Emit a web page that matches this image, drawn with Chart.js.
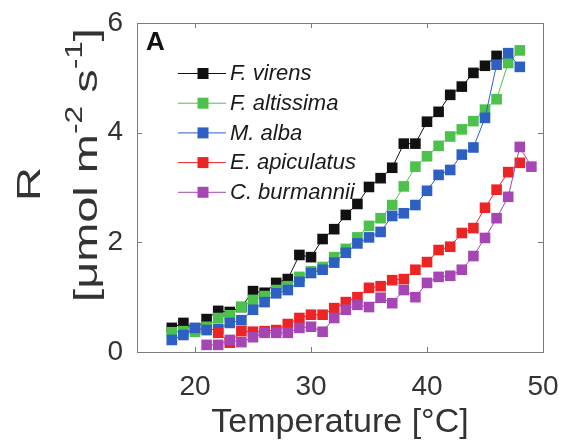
<!DOCTYPE html>
<html lang="en">
<head>
<meta charset="UTF-8" />
<title>R vs Temperature</title>
<script src="https://cdn.jsdelivr.net/npm/chart.js"></script>
<style>
  html, body { margin: 0; padding: 0; background: #fff; }
  #wrap { width: 571px; height: 446px; }
</style>
</head>
<body>
<div id="wrap"><canvas id="chart" width="571" height="446"></canvas></div>
<script>
// species, colours (legend order = drawing order)
const speciesNames = ['F. virens', 'F. altissima', 'M. alba', 'E. apiculatus', 'C. burmannii'];
const speciesColors = ['#111111', '#4cc14c', '#2e5fc2', '#ed2424', '#a546b4'];

// temperature [°C] per series
const virensT = [18,19,20,21,22,23,24,25,26,27,28,29,30,31,32,33,34,35,36,37,38,39,40,41,42,43,44,45,46];
const altissimaT = [18,19,20,21,22,23,24,25,26,27,28,29,30,31,32,33,34,35,36,37,38,39,40,41,42,43,44,45,46,47,48];
const albaT = [18,19,20,21,22,23,24,25,26,27,28,29,30,31,32,33,34,35,36,37,38,39,40,41,42,43,44,45,46,47,48];
const apiculatusT = [22,23,24,25,26,27,28,29,30,31,32,33,34,35,36,37,38,39,40,41,42,43,44,45,46,47,48];
const burmanniiT = [21,22,23,24,25,26,27,28,29,30,31,32,33,34,35,36,37,38,39,40,41,42,43,44,45,46,47,48,49];

// R [umol m-2 s-1] per series
const virensR = [0.44,0.53,0.42,0.60,0.75,0.73,0.82,1.11,1.08,1.26,1.33,1.77,1.73,2.06,2.24,2.50,2.70,3.01,3.17,3.36,3.80,3.80,4.20,4.38,4.69,4.84,5.09,5.22,5.40];
const altissimaR = [0.36,0.38,0.37,0.46,0.62,0.67,0.82,0.95,1.02,1.13,1.20,1.37,1.47,1.55,1.73,1.88,2.09,2.30,2.44,2.68,3.02,3.38,3.57,3.76,3.93,4.06,4.21,4.42,4.61,5.27,5.50];
const albaR = [0.22,0.31,0.44,0.40,0.42,0.53,0.58,0.77,0.91,1.07,1.13,1.28,1.44,1.50,1.63,1.81,1.98,2.09,2.19,2.48,2.53,2.68,2.94,3.23,3.32,3.60,3.73,4.27,5.24,5.45,5.20];
const apiculatusR = [0.35,0.17,0.38,0.37,0.38,0.40,0.51,0.62,0.68,0.68,0.80,0.91,1.00,1.17,1.20,1.31,1.33,1.50,1.64,1.86,1.92,2.17,2.26,2.63,2.96,3.28,3.45];
const burmanniiR = [0.13,0.13,0.22,0.18,0.27,0.35,0.35,0.35,0.44,0.46,0.37,0.62,0.77,0.86,0.82,0.99,0.89,1.13,1.00,1.26,1.37,1.39,1.50,1.75,2.08,2.44,2.83,3.74,3.38];

const xTicks = [20, 30, 40, 50];
const yTicks = [0, 2, 4, 6];

const seriesT = [virensT, altissimaT, albaT, apiculatusT, burmanniiT];
const seriesR = [virensR, altissimaR, albaR, apiculatusR, burmanniiR];

const FONT = '"Liberation Sans", Arial, Helvetica, sans-serif';
const AXIS_COLOR = '#7a7a7a';
const TEXT_COLOR = '#333333';

const datasets = speciesNames.map((name, i) => ({
  label: name,
  data: seriesT[i].map((t, j) => ({ x: t, y: seriesR[i][j] })),
  borderColor: speciesColors[i],
  backgroundColor: speciesColors[i],
  borderWidth: 1,
  pointStyle: 'rect',
  pointRadius: 7.5,
  pointBorderWidth: 0,
  pointBackgroundColor: speciesColors[i],
  tension: 0,
  order: speciesNames.length - i
}));

// box, inward ticks, legend, panel letter, y title
const decorations = {
  id: 'decorations',
  afterDraw(chart) {
    const ctx = chart.ctx;
    const a = chart.chartArea;
    const xs = chart.scales.x, ys = chart.scales.y;
    ctx.save();
    ctx.strokeStyle = AXIS_COLOR;
    ctx.lineWidth = 1;
    ctx.strokeRect(Math.round(a.left) + 0.5, Math.round(a.top) + 0.5,
      Math.round(a.right - a.left), Math.round(a.bottom - a.top));
    ctx.beginPath();
    xTicks.forEach(v => {
      const px = Math.round(xs.getPixelForValue(v)) + 0.5;
      ctx.moveTo(px, a.bottom); ctx.lineTo(px, a.bottom - 5);
      ctx.moveTo(px, a.top); ctx.lineTo(px, a.top + 5);
    });
    yTicks.forEach(v => {
      const py = Math.round(ys.getPixelForValue(v)) + 0.5;
      ctx.moveTo(a.left, py); ctx.lineTo(a.left + 5, py);
      ctx.moveTo(a.right, py); ctx.lineTo(a.right - 5, py);
    });
    ctx.stroke();

    // panel letter
    ctx.fillStyle = '#111';
    ctx.font = 'bold 26px ' + FONT;
    ctx.textAlign = 'left';
    ctx.textBaseline = 'alphabetic';
    ctx.fillText('A', 146, 50);

    // legend
    speciesNames.forEach((name, i) => {
      const y = 73 + i * 29.7;
      ctx.strokeStyle = speciesColors[i];
      ctx.lineWidth = 1;
      ctx.beginPath();
      ctx.moveTo(178, y + 0.5); ctx.lineTo(226, y + 0.5);
      ctx.stroke();
      ctx.fillStyle = speciesColors[i];
      ctx.fillRect(197.5, y - 5, 11, 11);
      ctx.fillStyle = '#1a1a1a';
      ctx.font = 'italic 22px ' + FONT;
      ctx.textBaseline = 'middle';
      ctx.fillText(name, 230, y + 1);
    });

    // y axis title (two lines, rotated, stretched along the text, with superscripts)
    ctx.fillStyle = TEXT_COLOR;
    ctx.save();
    ctx.translate(31, 184);
    ctx.rotate(-Math.PI / 2);
    ctx.scale(1.4, 1);
    ctx.textAlign = 'center';
    ctx.textBaseline = 'middle';
    ctx.font = '34px ' + FONT;
    ctx.fillText('R', 0, 0);
    ctx.restore();

    const parts = [
      { t: '[\u03bcmol m', sup: false },
      { t: '-2', sup: true },
      { t: ' s', sup: false },
      { t: '-1', sup: true },
      { t: ']', sup: false }
    ];
    const big = '34px ' + FONT, small = '23px ' + FONT;
    let total = 0;
    parts.forEach(p => { ctx.font = p.sup ? small : big; p.w = ctx.measureText(p.t).width; total += p.w; });
    ctx.save();
    ctx.translate(88, 165);
    ctx.rotate(-Math.PI / 2);
    ctx.scale(1.38, 1);
    ctx.textAlign = 'left';
    ctx.textBaseline = 'middle';
    let cx = -total / 2;
    parts.forEach(p => {
      ctx.font = p.sup ? small : big;
      ctx.fillText(p.t, cx, p.sup ? -12 : 0);
      cx += p.w;
    });
    ctx.restore();
    ctx.restore();
  }
};

new Chart(document.getElementById('chart'), {
  type: 'line',
  data: { datasets },
  options: {
    responsive: false,
    animation: false,
    devicePixelRatio: 1,
    layout: { padding: { left: 0, top: 23, right: 28, bottom: 0 } },
    plugins: { legend: { display: false }, tooltip: { enabled: false } },
    scales: {
      x: {
        type: 'linear',
        min: 15,
        max: 50,
        afterBuildTicks: s => { s.ticks = xTicks.map(v => ({ value: v })); },
        afterFit: s => { s.height = 94; },
        grid: { display: false },
        border: { display: false },
        ticks: { color: TEXT_COLOR, font: { family: FONT, size: 28 }, padding: 10, maxRotation: 0 },
        title: { display: true, text: 'Temperature [\u00b0C]', color: TEXT_COLOR, font: { family: FONT, size: 34 }, padding: { top: 0, bottom: 3 } }
      },
      y: {
        min: 0,
        max: 6,
        afterBuildTicks: s => { s.ticks = yTicks.map(v => ({ value: v })); },
        afterFit: s => { s.width = 137; },
        grid: { display: false },
        border: { display: false },
        ticks: { color: TEXT_COLOR, font: { family: FONT, size: 28 }, padding: 6 }
      }
    }
  },
  plugins: [decorations]
});
</script>
</body>
</html>
